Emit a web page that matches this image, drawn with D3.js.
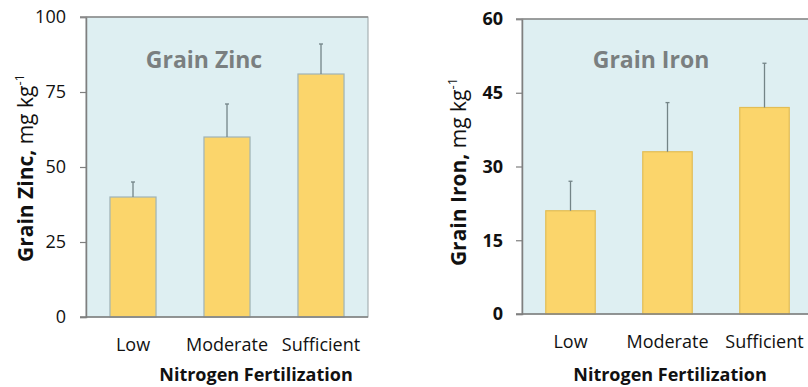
<html>
  <head>
    <meta charset="UTF-8">
    <script src="https://cdnjs.cloudflare.com/ajax/libs/d3/7.8.5/d3.min.js"></script>
    <style>
      body { margin: 0; background: #fff; font-family: 'Open Sans', sans-serif; }
      svg { display: block; }
    </style>
  </head>
  <body>
    <svg id="chart" width="808" height="387"></svg>
    <script>
      const categories = ['Low', 'Moderate', 'Sufficient']

      const zincValues = [40, 60, 81]
      const zincErrors = [45, 71, 91]
      const zincTicks = [0, 25, 50, 75, 100]

      const ironValues = [21, 33, 42]
      const ironErrors = [27, 43, 51]
      const ironTicks = [0, 15, 30, 45, 60]

      const svg = d3.select('#chart')

      function drawPanel(opts) {
        const x = d3.scaleBand()
          .domain(categories)
          .range([opts.left, opts.right])
          .paddingInner(opts.pad)
          .paddingOuter(opts.pad / 2)
        const y = d3.scaleLinear()
          .domain([0, opts.max])
          .range([opts.bottom, opts.top])

        const g = svg.append('g')

        // plot background
        g.append('rect')
          .attr('x', opts.left)
          .attr('y', opts.top)
          .attr('width', opts.right - opts.left)
          .attr('height', opts.bottom - opts.top)
          .attr('fill', '#deeff2')
          .attr('stroke', '#9aa3a6')
          .attr('stroke-width', 1)

        // y axis
        const yAxis = g.append('g')
          .attr('transform', `translate(${opts.left},0)`)
          .call(d3.axisLeft(y).tickValues(opts.ticks).tickSize(6).tickPadding(opts.tickPad))
        yAxis.select('.domain').attr('stroke', '#7f7f7f').attr('stroke-width', 1.5)
        yAxis.selectAll('.tick line').attr('stroke', '#7f7f7f').attr('stroke-width', 1.2)
        yAxis.selectAll('.tick text')
          .attr('fill', '#111')
          .style('font-family', "'Open Sans', sans-serif")
          .style('font-size', '18px')
          .style('font-weight', opts.boldTicks ? 700 : 400)

        // bars
        g.selectAll('.bar')
          .data(opts.values)
          .enter().append('rect')
          .attr('class', 'bar')
          .attr('x', (d, i) => x(categories[i]))
          .attr('y', d => y(d))
          .attr('width', x.bandwidth())
          .attr('height', d => y(0) - y(d))
          .attr('fill', '#fbd56b')
          .attr('stroke', opts.barStroke)
          .attr('stroke-width', 1.2)

        // error bars (upper only)
        const err = g.selectAll('.err')
          .data(opts.values)
          .enter().append('g')
          .attr('class', 'err')
        err.append('line')
          .attr('x1', (d, i) => x(categories[i]) + x.bandwidth() / 2)
          .attr('x2', (d, i) => x(categories[i]) + x.bandwidth() / 2)
          .attr('y1', d => y(d))
          .attr('y2', (d, i) => y(opts.errors[i]))
          .attr('stroke', '#738487')
          .attr('stroke-width', 1.3)
        err.append('line')
          .attr('x1', (d, i) => x(categories[i]) + x.bandwidth() / 2 - 2)
          .attr('x2', (d, i) => x(categories[i]) + x.bandwidth() / 2 + 2)
          .attr('y1', (d, i) => y(opts.errors[i]))
          .attr('y2', (d, i) => y(opts.errors[i]))
          .attr('stroke', '#738487')
          .attr('stroke-width', 1.3)

        // bottom axis line
        g.append('line')
          .attr('x1', opts.left - 6)
          .attr('x2', opts.right)
          .attr('y1', opts.bottom)
          .attr('y2', opts.bottom)
          .attr('stroke', '#7f7f7f')
          .attr('stroke-width', 1.5)
        // top line
        g.append('line')
          .attr('x1', opts.left - 6)
          .attr('x2', opts.right)
          .attr('y1', opts.top)
          .attr('y2', opts.top)
          .attr('stroke', '#8c8c8c')
          .attr('stroke-width', 1.5)

        // category labels
        g.selectAll('.cat')
          .data(categories)
          .enter().append('text')
          .attr('x', d => x(d) + x.bandwidth() / 2)
          .attr('y', opts.bottom + 34)
          .attr('text-anchor', 'middle')
          .attr('fill', '#111')
          .style('font-size', '18px')
          .text(d => d)

        // x title
        g.append('text')
          .attr('x', opts.xTitleX)
          .attr('y', 381)
          .attr('text-anchor', 'middle')
          .attr('fill', '#111')
          .style('font-size', '18px')
          .style('font-weight', 700)
          .text('Nitrogen Fertilization')

        // chart title
        g.append('text')
          .attr('x', opts.titleX)
          .attr('y', 68)
          .attr('text-anchor', 'middle')
          .attr('fill', '#7a7f80')
          .style('font-size', '23px')
          .style('font-weight', 700)
          .text(opts.title)

        // y title
        const yt = g.append('text')
          .attr('transform', `translate(${opts.yTitleX},${opts.yTitleY}) rotate(-90)`)
          .attr('text-anchor', 'middle')
          .attr('fill', '#111')
          .style('font-size', '21px')
        yt.append('tspan').style('font-weight', 700).text(opts.yName + ',')
        yt.append('tspan').text(' mg kg')
        yt.append('tspan').attr('dy', -9).style('font-size', '13px').text('-1')
      }

      drawPanel({
        left: 86, right: 368, top: 17, bottom: 317, pad: 0.51, tickPad: 14,
        max: 100, ticks: zincTicks, values: zincValues, errors: zincErrors,
        boldTicks: false, barStroke: '#9fb3b8',
        title: 'Grain Zinc', titleX: 204,
        yName: 'Grain Zinc', yTitleX: 33, yTitleY: 168,
        xTitleX: 256
      })

      drawPanel({
        left: 522, right: 813, top: 19, bottom: 314, pad: 0.49, tickPad: 13,
        max: 60, ticks: ironTicks, values: ironValues, errors: ironErrors,
        boldTicks: true, barStroke: '#e2bd55',
        title: 'Grain Iron', titleX: 651,
        yName: 'Grain Iron', yTitleX: 466, yTitleY: 172,
        xTitleX: 670
      })
    </script>
  </body>
</html>
